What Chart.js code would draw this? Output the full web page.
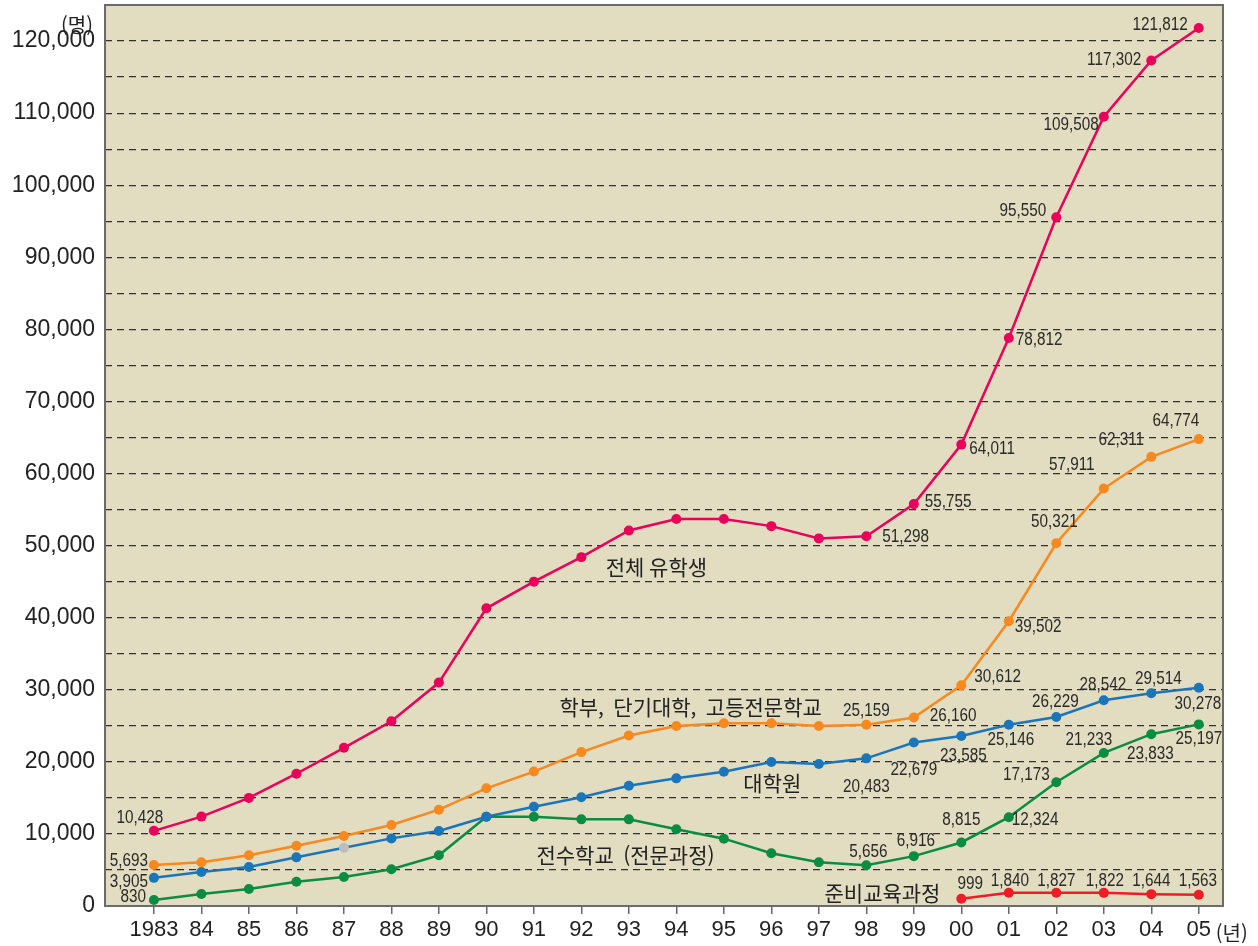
<!DOCTYPE html>
<html lang="ko">
<head>
    <meta charset="UTF-8">
    <title>일본 유학생 수 추이</title>
    <script src="https://cdn.jsdelivr.net/npm/chart.js"></script>
    <style>
        html, body {
            margin: 0;
            padding: 0;
            background: #ffffff;
        }
        .chart-box {
            width: 1258px;
            height: 946px;
            position: relative;
        }
    </style>
</head>
<body>
    <div class="chart-box">
        <canvas id="studentChart"></canvas>
    </div>

    <script>
        // 연도 (x축)
        const yearLabels = ['1983', '84', '85', '86', '87', '88', '89', '90', '91', '92', '93', '94',
                            '95', '96', '97', '98', '99', '00', '01', '02', '03', '04', '05'];
        // y축 눈금 (5,000 간격, 라벨은 10,000마다)
        const yTicks = [0, 5000, 10000, 15000, 20000, 25000, 30000, 35000, 40000, 45000, 50000, 55000, 60000,
                        65000, 70000, 75000, 80000, 85000, 90000, 95000, 100000, 105000, 110000, 115000, 120000];

        // 전체 유학생
        const totalStudents = [10428, 12400, 15000, 18350, 21950, 25620, 31000, 41300, 45000, 48400,
                               52100, 53700, 53700, 52700, 51000, 51298, 55755, 64011, 78812, 95550,
                               109508, 117302, 121812];
        // 학부, 단기대학, 고등전문학교
        const undergrad = [5693, 6060, 7030, 8370, 9700, 11240, 13360, 16330, 18650, 21350,
                           23650, 24970, 25350, 25350, 24970, 25159, 26160, 30612, 39502, 50321,
                           57911, 62311, 64774];
        // 대학원
        const graduate = [3905, 4720, 5410, 6750, 8090, 9380, 10400, 12390, 13780, 15080,
                          16690, 17710, 18630, 19980, 19700, 20483, 22679, 23585, 25146, 26229,
                          28542, 29514, 30278];
        // 전수학교 (전문과정)
        const vocational = [830, 1660, 2360, 3370, 4020, 5090, 7030, 12390, 12390, 12020,
                            12020, 10640, 9340, 7310, 6060, 5656, 6916, 8815, 12324, 17173,
                            21233, 23833, 25197];
        // 준비교육과정 (2000년부터)
        const prepYears = [17, 18, 19, 20, 21, 22];
        const prepCourse = [999, 1840, 1827, 1822, 1644, 1563];

        // 라벨 위치: [인덱스, 정렬, dx, dy] (점 기준 픽셀)
        const totalTags = [[0, 'center', -14, -13], [15, 'left', 16, 1], [16, 'left', 11, -2], [17, 'left', 8, 4],
                           [18, 'left', 7, 2], [19, 'right', -10, -6], [20, 'right', -5, 8],
                           [21, 'right', -10, 0], [22, 'right', -11, -3]];
        const undergradTags = [[0, 'right', -6, -4], [15, 'center', 0, -14], [16, 'left', 16, -1],
                               [17, 'left', 13, -8], [18, 'left', 6, 6], [19, 'center', -2, -21],
                               [20, 'center', -32, -24], [21, 'center', -30, -17], [22, 'center', -23, -18]];
        const graduateTags = [[0, 'right', -6, 4], [15, 'center', 0, 29], [16, 'center', 0, 28],
                              [17, 'center', 2, 20], [18, 'center', 2, 15], [19, 'center', -1, -15],
                              [20, 'center', -1, -15], [21, 'center', 7, -14], [22, 'center', -1, 16]];
        const vocationalTags = [[0, 'right', -8, -3], [15, 'center', 2, -13], [16, 'center', 2, -15],
                                [17, 'center', 0, -22], [18, 'left', 3, 3], [19, 'center', -30, -7],
                                [20, 'center', -15, -13], [21, 'center', -1, 20], [22, 'center', 0, 15]];
        const prepTags = [[0, 'center', 9, -15], [1, 'center', 1, -12], [2, 'center', 0, -12],
                          [3, 'center', 1, -12], [4, 'center', 0, -13], [5, 'center', -1, -14]];

        // 계열 이름 (x 인덱스, y 값)
        const seriesNames = [
            ['전체 유학생', 10.58, 47000],
            ['학부,  단기대학,  고등전문학교', 11.30, 27600],
            ['대학원', 13.02, 17060],
            ['전수학교  (전문과정)', 9.93, 7075],
            ['준비교육과정', 15.34, 1800]
        ];

        const COLORS = {
            total: '#e8005a',
            undergrad: '#f7891f',
            graduate: '#1b75bb',
            vocational: '#0a8c43',
            prep: '#ee1c24'
        };
        const BG = '#e2dcc0';

        const toPoints = (arr, xs) => arr.map((v, i) => ({ x: xs ? xs[i] : i, y: v }));
        const fmt = v => v.toLocaleString('en-US');

        function lineSet(label, arr, color, xs) {
            return {
                label: label,
                data: toPoints(arr, xs),
                borderColor: color,
                backgroundColor: color,
                pointBackgroundColor: color,
                pointBorderColor: color,
                borderWidth: 2.5,
                pointRadius: 5,
                pointBorderWidth: 0,
                tension: 0
            };
        }

        const gradSet = lineSet('대학원', graduate, COLORS.graduate);
        // 1987년 점은 회색 구슬처럼 보임
        gradSet.pointBackgroundColor = graduate.map((v, i) => i === 4 ? '#bdbdbd' : COLORS.graduate);

        const datasets = [
            lineSet('전체 유학생', totalStudents, COLORS.total),
            lineSet('학부, 단기대학, 고등전문학교', undergrad, COLORS.undergrad),
            gradSet,
            lineSet('전수학교 (전문과정)', vocational, COLORS.vocational),
            lineSet('준비교육과정', prepCourse, COLORS.prep, prepYears)
        ];
        const tagLists = [totalTags, undergradTags, graduateTags, vocationalTags, prepTags];
        const valueLists = [totalStudents, undergrad, graduate, vocational, prepCourse];

        // 배경과 테두리
        const framePlugin = {
            id: 'frame',
            beforeDraw(chart) {
                const { ctx, chartArea: a } = chart;
                ctx.save();
                ctx.fillStyle = BG;
                ctx.fillRect(a.left, a.top, a.right - a.left, a.bottom - a.top);
                ctx.restore();
            },
            beforeDatasetsDraw(chart) {
                const { ctx, chartArea: a } = chart;
                ctx.save();
                ctx.strokeStyle = '#6b6b6b';
                ctx.lineWidth = 2;
                ctx.strokeRect(a.left, a.top, a.right - a.left, a.bottom - a.top);
                ctx.restore();
            }
        };

        // 값 라벨, 계열 이름, 단위
        const labelPlugin = {
            id: 'valueTags',
            afterDatasetsDraw(chart) {
                const { ctx, chartArea: a } = chart;
                const xs = chart.scales.x, ys = chart.scales.y;
                ctx.save();
                ctx.fillStyle = '#2a2a2a';
                ctx.font = '18px "Liberation Sans", Arial, sans-serif';
                ctx.textBaseline = 'middle';
                const squeeze = 0.85;
                tagLists.forEach((tags, d) => {
                    const meta = chart.getDatasetMeta(d);
                    tags.forEach(([i, align, dx, dy]) => {
                        const pt = meta.data[i];
                        const txt = fmt(valueLists[d][i]);
                        const w = ctx.measureText(txt).width * squeeze;
                        let left = pt.x + dx;
                        if (align === 'center') left -= w / 2;
                        if (align === 'right') left -= w;
                        ctx.save();
                        ctx.translate(left, pt.y + dy);
                        ctx.scale(squeeze, 1);
                        ctx.textAlign = 'left';
                        ctx.fillText(txt, 0, 0);
                        ctx.restore();
                    });
                });

                ctx.font = '21px "Noto Sans CJK KR", sans-serif';
                ctx.textAlign = 'center';
                ctx.fillStyle = '#222';
                seriesNames.forEach(([txt, xi, yv]) => {
                    ctx.fillText(txt, xs.getPixelForValue(xi), ys.getPixelForValue(yv));
                });

                ctx.font = '20px "Noto Sans CJK KR", sans-serif';
                ctx.textAlign = 'right';
                ctx.fillText('(명)', a.left - 12, ys.getPixelForValue(120000) - 16);
                ctx.textAlign = 'left';
                ctx.fillText('(년)', xs.getPixelForValue(22) + 17, a.bottom + 27);
                ctx.restore();
            }
        };

        const ctx = document.getElementById('studentChart').getContext('2d');
        new Chart(ctx, {
            type: 'line',
            data: { datasets: datasets },
            options: {
                responsive: true,
                maintainAspectRatio: false,
                animation: false,
                layout: { padding: { top: 5, right: 35, left: 0, bottom: 0 } },
                plugins: {
                    legend: { display: false },
                    tooltip: { enabled: false }
                },
                scales: {
                    x: {
                        type: 'linear',
                        min: -1.03,
                        max: 22.51,
                        afterBuildTicks: scale => {
                            scale.ticks = yearLabels.map((l, i) => ({ value: i }));
                        },
                        afterFit: scale => {
                            scale.height = 40;
                            scale.paddingLeft = 0;
                            scale.paddingRight = 0;
                        },
                        ticks: {
                            autoSkip: false,
                            maxRotation: 0,
                            padding: 3,
                            color: '#222',
                            font: { family: '"Liberation Sans", Arial, sans-serif', size: 22 },
                            callback: (v) => yearLabels[v]
                        },
                        grid: {
                            drawOnChartArea: false,
                            drawTicks: true,
                            tickLength: 8,
                            color: '#666',
                            lineWidth: 1.5
                        },
                        border: { display: false }
                    },
                    y: {
                        min: 0,
                        max: 125000,
                        afterBuildTicks: scale => {
                            scale.ticks = yTicks.map(v => ({ value: v }));
                        },
                        afterFit: scale => {
                            scale.width = 105;
                            scale.paddingTop = 0;
                            scale.paddingBottom = 0;
                        },
                        ticks: {
                            autoSkip: false,
                            padding: 10,
                            color: '#222',
                            font: { family: '"Liberation Sans", Arial, sans-serif', size: 23 },
                            callback: v => (v % 10000 === 0) ? fmt(v) : ''
                        },
                        grid: {
                            drawTicks: false,
                            lineWidth: 1.2,
                            color: c => (c.tick.value === 0) ? 'rgba(0,0,0,0)' : '#33312c'
                        },
                        border: { display: false, dash: [7, 5] }
                    }
                }
            },
            plugins: [framePlugin, labelPlugin]
        });
    </script>
</body>
</html>
